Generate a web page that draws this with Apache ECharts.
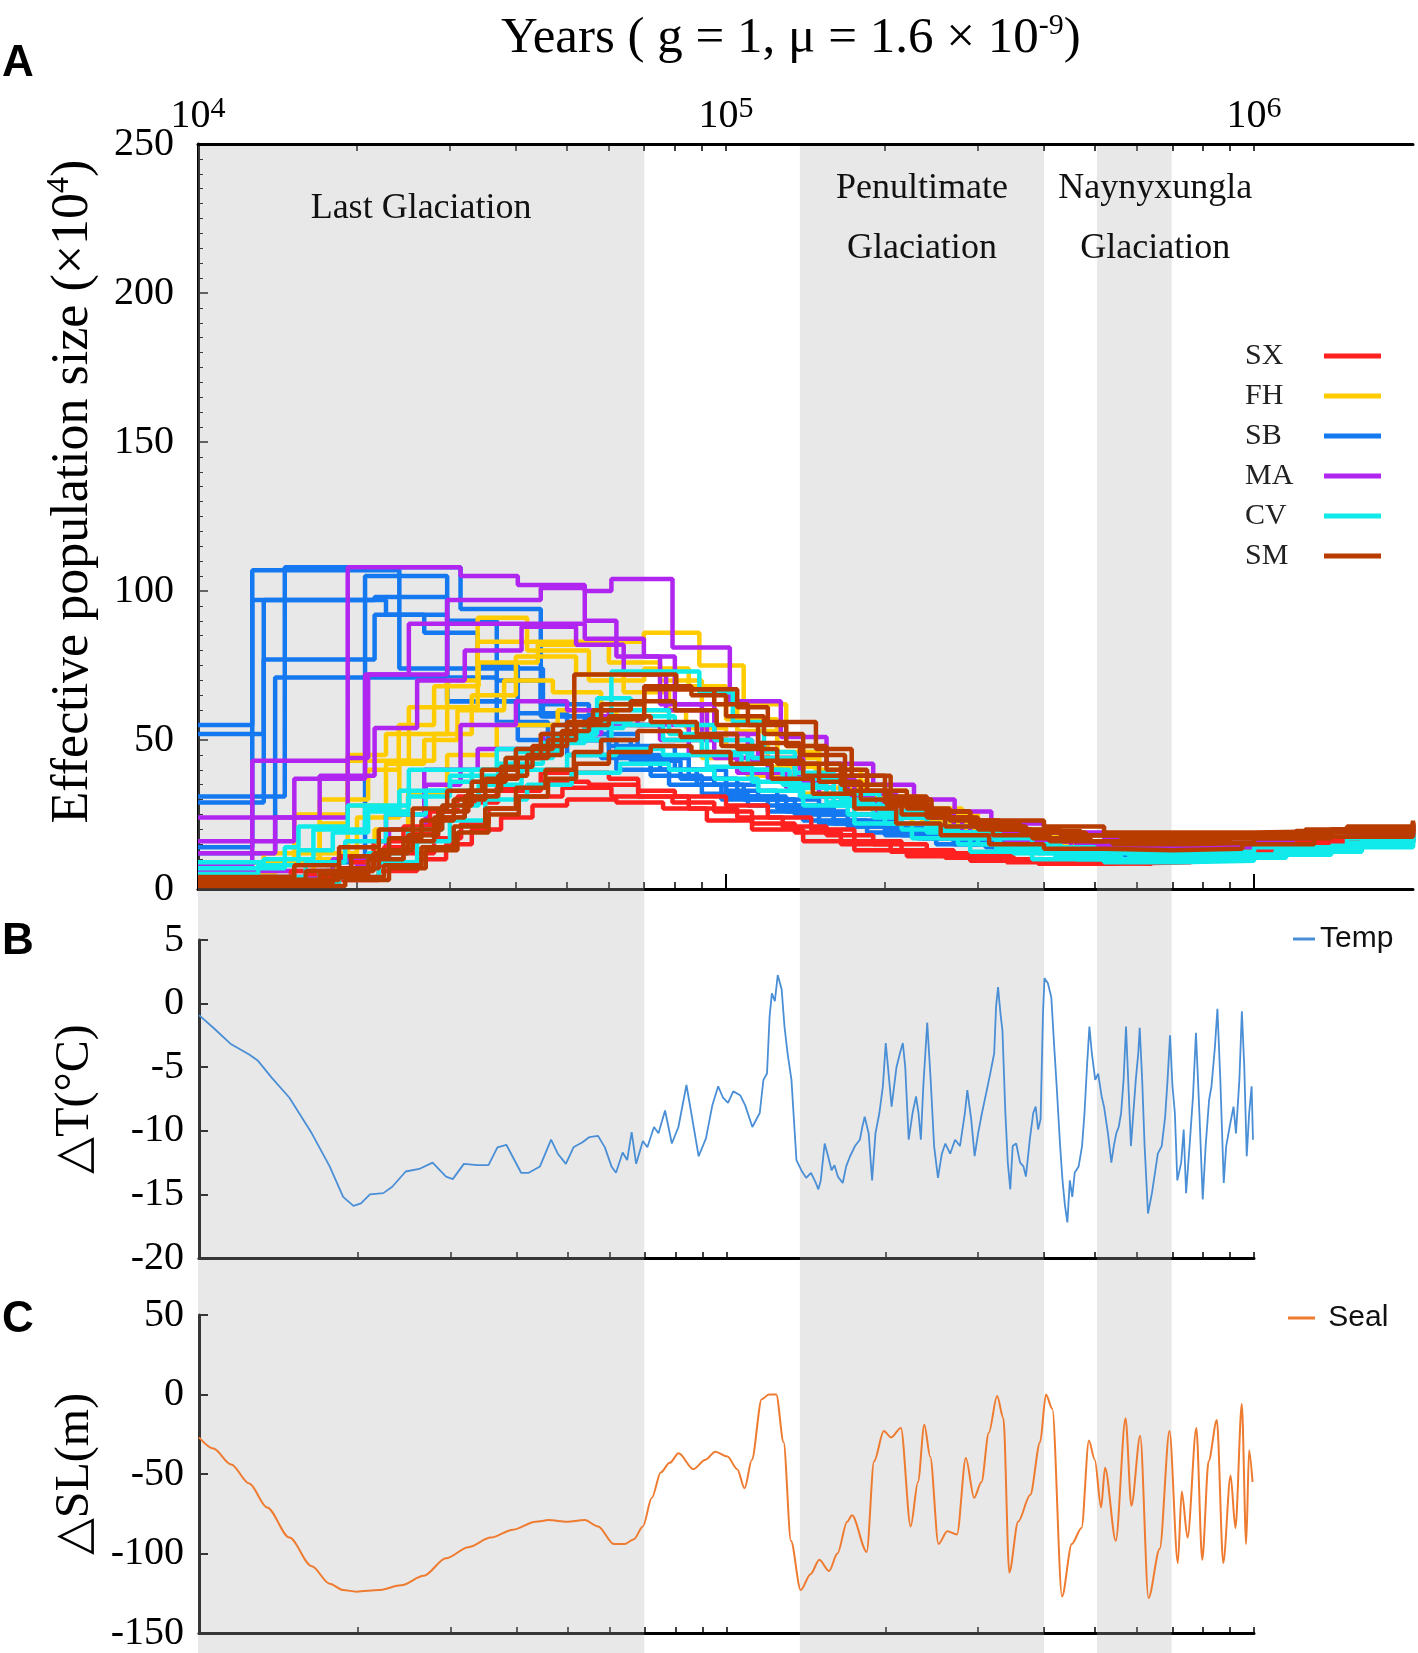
<!DOCTYPE html>
<html>
<head>
<meta charset="utf-8">
<title>PSMC</title>
<script src="https://cdn.jsdelivr.net/npm/echarts@6.0.0/dist/echarts.min.js"></script>
<style>
  html, body { margin: 0; padding: 0; background: #fff; }
  #chart { width: 1418px; height: 1653px; }
</style>
</head>
<body>
<div id="chart"></div>
<script>
// populations (legend order) and colours
const popNames = ['SX', 'FH', 'SB', 'MA', 'CV', 'SM'];
const popColors = ['#ff2020', '#ffcc00', '#1478f0', '#b026f0', '#10eaea', '#b83c00'];

// PSMC runs: [years, Ne (x10^4)], each value holds until the next year
const sxRuns = [
  [[10000,3],[16000,5],[19500,9],[22500,14],[25500,19],[28500,24],[32000,29],[37000,33],[44580,39],[60000,37],[68170,33],[80000,31],[100000,28],[120000,24],[145000,20],[175000,16],[215000,13],[270000,11],[350000,9.5],[470000,9],[650000,10],[900000,12.5],[1300000,17],[2000000,20]],
  [[10000,2],[17000,4],[21000,8],[24500,12],[28000,17],[31500,22],[35500,27],[40330,31],[49000,34],[60660,31],[79190,29],[95000,26],[112000,22],[135000,19],[165000,15],[205000,12.5],[260000,10.5],[340000,9],[460000,8.5],[640000,9.5],[900000,12.5],[1300000,16.5],[2000000,20]],
  [[10000,4],[15000,6],[18500,11],[21500,16],[24500,21],[27500,26],[31000,31],[36800,34],[45000,36],[55000,35],[68170,31],[85000,27],[105000,24],[128000,21],[155000,18],[190000,15],[240000,12],[310000,10],[420000,9],[590000,9.5],[820000,11.5],[1200000,15.5],[2000000,20]],
  [[10000,1.5],[18000,3],[22000,6],[26000,10],[29500,15],[33000,20],[37500,24],[43000,28],[50000,30],[62000,29],[76000,27],[92000,23],[112000,20],[140000,16],[175000,13],[220000,11],[290000,9.5],[390000,8.5],[540000,9],[760000,11],[1100000,14.5],[1600000,18],[2000000,20]]
];
const fhRuns = [
  [[10000,6],[15220,10],[19210,43],[25080,61],[33860,83],[69890,86],[89010,75],[108000,62],[130000,48],[150000,40],[180000,33],[220000,27],[280000,22],[360000,18],[480000,15],[650000,14],[900000,15],[1300000,17],[2000000,19]],
  [[10000,9],[15220,25],[19210,45],[22700,52],[29640,70],[33860,91],[42000,80],[55000,70],[70000,74],[85000,68],[100000,57],[125000,46],[150000,38],[185000,31],[235000,25],[300000,20],[400000,16],[550000,14],[800000,14],[1100000,16],[2000000,19]],
  [[10000,4],[16540,12],[20000,24],[24060,43],[28000,52],[33000,65],[40000,78],[52000,72],[64000,66],[78000,60],[92000,52],[110000,43],[135000,36],[165000,30],[210000,25],[270000,20],[350000,17],[470000,15],[650000,14],[950000,15],[1400000,17],[2000000,19.5]],
  [[10000,3],[18000,7],[21600,20],[25000,32],[29640,45],[36800,55],[48000,60],[62000,55],[75000,50],[90000,44],[110000,38],[140000,32],[175000,27],[225000,22],[290000,18],[380000,15],[520000,13.5],[750000,13.5],[1000000,15],[1500000,17.5],[2000000,19.5]],
  [[10000,5],[14000,9],[17000,22],[19210,28],[22700,42],[26820,50],[31000,60],[38000,70],[47000,66],[58000,62],[70000,60],[84000,54],[100000,48],[120000,41],[148000,34],[185000,28],[235000,23],[300000,19],[400000,16],[560000,14.5],[800000,14.5],[1100000,16],[2000000,19]],
  [[10000,7],[13320,12],[17000,30],[21000,40],[24000,55],[28000,68],[34000,76],[44000,82],[60000,76],[75000,70],[90000,62],[105000,53],[125000,44],[150000,36],[185000,29],[230000,24],[295000,19],[380000,16],[500000,14],[700000,14],[1000000,15.5],[1500000,17.5],[2000000,19.5]]
];
const sbRuns = [
  [[10000,55],[12670,107],[24060,74],[45000,58],[60000,48],[80000,40],[100000,33],[125000,28],[160000,23],[210000,19],[280000,16],[380000,14],[520000,13],[750000,13.5],[1000000,15],[1400000,17],[2000000,19]],
  [[10000,52],[13320,97],[21600,98],[29640,63],[40330,55],[52000,50],[62000,45],[75000,40],[95000,35],[115000,30],[150000,25],[200000,20],[270000,16],[360000,13],[480000,12],[700000,12.5],[1000000,14.5],[1500000,17],[2000000,19]],
  [[10000,31],[14600,108],[31420,94],[44580,62],[55000,52],[68000,44],[85000,37],[105000,31],[130000,26],[170000,21],[230000,17],[310000,14],[420000,12],[600000,12],[850000,14],[1200000,16],[2000000,19]],
  [[10000,29],[13320,77],[21600,92],[29640,71],[36800,56],[46000,50],[58000,44],[72000,38],[90000,32],[110000,28],[140000,23],[185000,19],[250000,15],[340000,12.5],[460000,11.5],[650000,12],[900000,13.5],[1300000,16],[2000000,18.5]],
  [[10000,12],[14000,71],[29640,63],[40330,50],[50000,45],[62000,40],[78000,35],[98000,30],[120000,26],[150000,22],[200000,18],[270000,15],[360000,12.5],[500000,11.5],[700000,12],[1000000,14],[1500000,16.5],[2000000,18.5]],
  [[10000,9],[20720,105],[29640,90],[36800,70],[44580,58],[54000,50],[66000,43],[82000,37],[100000,31],[125000,27],[160000,22],[215000,18],[290000,15],[390000,13],[540000,12],[750000,13],[1000000,14.5],[1500000,17],[2000000,19]],
  [[10000,14],[12670,97],[22700,92],[26820,86],[33860,75],[40330,59],[50000,52],[60000,46],[72000,40],[88000,35],[108000,30],[135000,25],[175000,21],[235000,17],[320000,14],[430000,12.5],[600000,12],[850000,13.5],[1200000,16],[2000000,19]]
];
const maRuns = [
  [[10000,24],[19210,108],[31420,105],[40330,102],[54010,100],[60660,104],[79190,81],[101670,63],[127000,51],[155000,42],[190000,35],[227000,30],[271000,26],[318000,22],[400000,19],[520000,17],[700000,17],[1000000,18],[1400000,20],[2000000,22]],
  [[10000,16],[15220,37],[20720,72],[29640,97],[44580,101],[54010,90],[62000,78],[75000,62],[90000,52],[110000,44],[135000,38],[165000,32],[210000,26],[270000,21],[350000,17],[460000,15],[650000,14.5],[900000,15],[1300000,15.5],[1850000,15]],
  [[10000,8],[12670,43],[19210,44],[21000,72],[25080,89],[54010,84],[69890,78],[80000,62],[95000,52],[115000,44],[140000,37],[175000,30],[225000,24],[290000,19],[380000,16],[520000,14],[750000,14],[1000000,15.5],[1500000,18],[2000000,21]],
  [[10000,4],[20000,8],[23000,20],[27000,35],[31420,55],[40000,63],[50000,60],[60000,55],[75000,50],[95000,44],[120000,37],[150000,31],[190000,26],[240000,21],[310000,17],[420000,14],[600000,13],[850000,14],[1200000,16.5],[2000000,21]],
  [[10000,6],[17980,10],[22700,25],[26820,40],[33860,47],[45000,52],[58000,58],[68000,55],[85000,45],[105000,39],[130000,34],[160000,29],[200000,24],[260000,19],[340000,16],[450000,14],[650000,14],[900000,15],[1300000,17.5],[2000000,21.5]],
  [[10000,12],[14000,24],[17000,38],[21600,54],[26000,70],[32000,80],[41000,88],[52000,82],[64000,72],[77000,60],[92000,50],[112000,43],[138000,36],[170000,30],[215000,24],[280000,19],[370000,16],[500000,15],[700000,15],[1000000,16.5],[1500000,19],[2000000,21.5]]
];
const cvRuns = [
  [[10000,7],[14600,14],[15500,21],[19210,28],[25080,40],[36800,47],[48860,50],[60660,73],[89010,66],[103000,56],[118000,46],[135000,39],[160000,32],[195000,26],[240000,21],[300000,17],[380000,14],[500000,12.5],[700000,12.5],[1000000,14],[1500000,17],[2000000,19.5]],
  [[10000,4],[16000,9],[19000,16],[22700,25],[27000,33],[33000,40],[40000,46],[48000,51],[56000,56],[66000,58],[80000,55],[95000,50],[112000,44],[135000,37],[165000,30],[205000,24],[260000,19],[330000,15],[430000,12],[580000,11],[800000,11.5],[1100000,13],[1500000,15.5],[2000000,18]],
  [[10000,3],[17000,6],[21000,12],[25000,20],[29000,28],[34000,35],[41000,40],[50000,45],[62000,47],[76000,45],[92000,41],[112000,36],[138000,31],[170000,25],[215000,20],[275000,15],[350000,12],[460000,10],[620000,9.5],[850000,10.5],[1150000,12.5],[1600000,15.5],[2000000,18]],
  [[10000,2],[18500,4],[22000,9],[26000,16],[30000,23],[35000,30],[42000,35],[51000,39],[63000,42],[78000,40],[95000,37],[115000,33],[140000,28],[175000,22],[225000,17],[290000,12.5],[380000,10],[520000,9],[720000,9.5],[1000000,11.5],[1400000,14.5],[2000000,18]],
  [[10000,9],[13320,10],[16540,20],[20720,27],[24060,33],[30000,38],[38250,44],[47000,52],[57000,64],[66000,60],[78000,52],[92000,46],[110000,40],[132000,34],[160000,28],[200000,22],[255000,17],[325000,13.5],[420000,11],[560000,10],[780000,11],[1100000,13],[1600000,16],[2000000,18.5]],
  [[10000,5],[13000,8],[15500,13],[18000,19],[21000,26],[25000,31],[30000,36],[37000,42],[45000,49],[54000,54],[64000,55],[76000,50],[90000,45],[107000,40],[128000,35],[155000,29],[190000,24],[240000,19],[300000,15],[390000,12],[520000,10],[700000,10],[950000,11.5],[1300000,14],[2000000,18.5]]
];
const smRuns = [
  [[10000,3],[18500,7],[22000,13],[25500,20],[29000,28],[33000,36],[38250,44],[44580,52],[51600,72],[80500,67],[105000,61],[120000,56],[148000,47],[173000,38],[205000,30],[245000,26],[290000,23],[400000,21],[520000,19],[700000,19],[1000000,19.5],[1500000,21],[2000000,23]],
  [[10000,2],[17000,5],[21000,10],[24500,16],[28000,24],[32000,31],[37000,38],[42000,45],[48860,53],[55000,57],[70000,67],[95000,62],[110000,55],[130000,48],[155000,40],[185000,33],[220000,27],[265000,23],[330000,20],[430000,18],[560000,17],[780000,17],[1000000,18],[1400000,20],[2000000,22.5]],
  [[10000,3],[16000,6],[19500,11],[23000,17],[26500,23],[30500,30],[35000,37],[40330,44],[46000,50],[52000,55],[60000,58],[72000,56],[88000,52],[105000,47],[125000,42],[150000,36],[180000,30],[215000,25],[260000,21],[320000,18],[410000,16],[540000,15],[750000,15.5],[1000000,17],[1400000,19.5],[2000000,22]],
  [[10000,1],[19000,3],[23000,7],[27000,13],[31000,19],[35500,25],[40500,31],[46000,37],[52000,42],[60000,46],[72000,48],[86000,46],[102000,42],[122000,37],[146000,32],[175000,27],[210000,22],[255000,18],[315000,15],[400000,13.5],[520000,13],[700000,13.5],[950000,15],[1300000,17.5],[2000000,21]],
  [[10000,4],[15220,8],[18500,14],[22000,20],[25500,27],[29640,33],[34500,40],[40000,47],[47000,55],[56000,60],[66000,63],[80000,60],[96000,55],[115000,49],[138000,42],[165000,35],[200000,29],[240000,24],[295000,21],[370000,19],[480000,18],[650000,18],[900000,18.5],[1250000,20],[2000000,22.5]],
  [[10000,2],[18000,4],[22500,8],[26500,14],[30500,21],[35000,27],[40000,34],[45500,40],[51500,46],[58000,50],[68000,53],[82000,51],[98000,48],[117000,43],[140000,38],[168000,33],[202000,28],[245000,24],[300000,20],[380000,17],[490000,16],[660000,16],[900000,17],[1300000,19],[2000000,21.5]],
  [[10000,3],[17500,6],[21500,12],[25000,18],[28500,26],[32500,33],[37500,41],[43000,48],[50000,56],[58000,62],[70000,68],[86000,65],[100000,58],[118000,52],[140000,45],[168000,38],[200000,31],[240000,26],[290000,22],[360000,19.5],[470000,18],[640000,17.5],[880000,18],[1200000,19.5],[2000000,22]]
];

// panel B: temperature anomaly [years, deg C]
const tempSeries = [
  [10000,-0.9],[10645,-1.9],[11510,-3.2],[12450,-4.0],[12940,-4.5],[13720,-5.8],[14840,-7.4],[16360,-10.2],[17690,-12.8],[18760,-15.2],[19620,-15.9],[20280,-15.7],[21090,-15.0],[22360,-14.9],[23250,-14.4],[24650,-13.2],[26150,-13.0],[27720,-12.5],[29400,-13.6],[30270,-13.8],[31780,-12.6],[33700,-12.7],[35380,-12.7],[36790,-11.3],[38250,-11.1],[39390,-12.1],[40800,-13.3],[42190,-13.3],[44300,-12.8],[46500,-10.7],[47880,-11.8],[49600,-12.6],[51280,-11.3],[53330,-10.9],[54910,-10.5],[57090,-10.4],[58800,-11.3],[60530,-12.8],[61730,-13.3],[63560,-11.7],[64820,-12.3],[66100,-10.1],[67410,-12.6],[69410,-10.8],[70790,-11.3],[72870,-9.7],[74310,-10.2],[76480,-8.4],[78780,-11.0],[81060,-9.7],
  [83960,-6.4],[86000,-8.9],[88550,-12.0],[91430,-10.6],[94000,-8.0],[96440,-6.5],[98500,-7.4],[100640,-7.8],[103000,-6.9],[106150,-7.2],[108500,-8.0],[111960,-9.7],[115610,-8.6],[117500,-6.0],[119340,-5.5],[120700,-1.0],[121900,0.8],[123500,0.2],[125070,2.25],[127230,1.1],[128800,-1.8],[130540,-3.9],[132780,-6.0],
  [135700,-12.3],[138600,-13.1],[141600,-13.7],[144600,-13.3],[147700,-14.1],[149300,-14.6],[150900,-13.9],[153500,-11.0],[155800,-12.0],[158200,-13.1],[160200,-12.7],[162600,-13.6],[166100,-14.1],[168600,-12.8],[171500,-12.0],[175200,-11.2],[179000,-10.7],[180900,-9.7],[182800,-8.9],[186000,-10.2],[188800,-13.9],[191600,-10.2],[194900,-8.6],[197900,-6.5],[200400,-3.1],[203400,-6.0],[205600,-8.1],[210000,-5.0],[213200,-3.9],[215900,-3.1],[218200,-5.0],[221500,-10.7],[225300,-8.6],[228700,-7.3],[231200,-8.6],[233600,-10.7],[236100,-6.5],[240200,-1.5],[243800,-6.0],[247500,-11.2],[251700,-13.7],[256000,-11.8],[259900,-11.0],[265500,-11.8],[271200,-10.7],[277100,-11.2],[283100,-8.6],[286100,-6.8],[291000,-9.1],[295400,-12.0],[299900,-10.2],[305000,-8.6],[311500,-6.8],[316200,-5.5],[321700,-3.9],[324400,-0.2],[327200,1.3],[330700,-0.8],[333500,-2.1],[337800,-8.6],[341400,-12.5],[345100,-14.6],[348800,-11.2],[354100,-11.0],[360200,-12.5],[365600,-12.8],[369500,-13.6],[375800,-10.7],[381500,-8.6],[385600,-8.1],[389700,-9.9],[393900,-9.1],[398100,-0.8],[400700,2.0],[406700,1.6],[412800,0.5],[418100,-3.4],[422600,-6.5],[429000,-11.2],[433500,-13.9],[438200,-15.9],[442800,-17.2],[447600,-13.9],[452400,-15.2],[457200,-13.3],[465100,-12.8],[472100,-11.2],[477200,-8.6],[482300,-5.0],[487500,-1.8],[492700,-3.9],[500100,-6.0],[506500,-5.5],[514200,-7.3],[519600,-8.1],[528600,-10.2],[536500,-12.5],[542300,-11.2],[548100,-10.2],[554000,-9.7],[559900,-8.6],[565900,-6.0],[572000,-1.8],[578100,-6.5],[584400,-11.2],[590600,-8.6],[596900,-6.0],[603400,-3.9],[607200,-1.9],[613800,-6.0],[620300,-11.2],[629600,-16.5],[640500,-14.9],[650200,-13.1],[657100,-11.8],[668400,-11.2],[678500,-8.9],[685700,-6.0],[693100,-2.5],[700600,-6.5],[707900,-8.6],[715500,-13.9],[727800,-12.5],[735700,-9.9],[743500,-14.9],[754800,-11.2],[766200,-7.3],[776200,-2.3],[787900,-8.6],[799500,-15.4],[809700,-11.2],[821900,-7.6],[830600,-6.5],[843200,-3.4],[852400,-0.4],[863300,-6.0],[876300,-14.1],[885700,-11.2],[899000,-9.7],[914500,-8.1],[924300,-10.2],[938200,-6.0],[948400,-0.6],[958500,-5.0],[968800,-12.0],[979100,-8.6],[989700,-6.5],[995600,-10.7]
];

// panel C: sea level change [years, m]
const sealSeries = [
  [10000,-27],[10645,-34],[11510,-44],[12450,-56],[13460,-71],[14840,-90],[16360,-108],[17690,-119],[18760,-123],[19890,-124],[21930,-123],[24170,-120],[26660,-114],[29400,-103],[32420,-96],[35730,-90],[39390,-85],[43440,-80],[46050,-79],[49800,-80],[53850,-79],[57090,-83],[61140,-94],[64190,-94],[66740,-91],[69410,-83],[72180,-65],[75050,-49],[78040,-43],[81130,-37],[86540,-47],
  [91240,-41],[95210,-36],[100430,-39],[104800,-47],[108220,-59],[111720,-41],[116600,-3],[120360,0],[124250,0],[128310,-30],[132480,-92],[138240,-123],[144290,-113],[149950,-104],[156480,-111],[162280,-100],[169330,-80],[172980,-76],[184420,-99],[190420,-42],[198710,-23],[205120,-27],[214090,-21],[223420,-83],[230680,-55],[237140,-19],[243300,-39],[252280,-94],[262110,-86],[273530,-88],[284250,-40],[294720,-65],[304330,-55],[314230,-24],[325840,-1],[334960,-15],[343620,-112],[357110,-80],[376620,-63],[393040,-30],[403270,0],[414570,-9],[432590,-127],[451400,-94],[471050,-84],[486390,-29],[498990,-41],[513090,-71],[521910,-46],[546990,-92],[570810,-15],[585580,-70],[608520,-26],[630960,-128],[662670,-97],[691500,-23],[717140,-106],[729460,-61],[748350,-90],[777500,-21],[797770,-104],[820150,-42],[850370,-16],[874370,-106],[902810,-51],[922170,-84],[948170,-6],[966470,-94],[978790,-35],[993570,-55]
];

// glaciation bands
const glacialNames = ['Last Glaciation', 'Penultimate\nGlaciation', 'Naynyxungla\nGlaciation'];
const glacialStart = [10000, 138000, 504000];
const glacialEnd = [70000, 400000, 698000];

// log axis ticks
const minorYears = [20000,30000,40000,50000,60000,70000,80000,90000,100000,200000,300000,400000,500000,600000,700000,800000,900000,1000000];
const majorYears = [100000, 1000000];
const labelYears = [10000, 100000, 1000000];
const labelExp = ['4', '5', '6'];

const serif = 'Liberation Serif';
const sans = 'Liberation Sans';

function stepSeries(runs, name, color) {
  return runs.map(function (run) {
    return {
      name: name,
      type: 'line',
      step: 'end',
      xAxisIndex: 0,
      yAxisIndex: 0,
      data: run,
      symbol: 'none',
      silent: true,
      z: 2,
      itemStyle: { color: color },
      lineStyle: { color: color, width: 4.5 }
    };
  });
}

function logAxis(grid, max, extra) {
  return Object.assign({
    type: 'log',
    logBase: 10,
    gridIndex: grid,
    min: 10000,
    max: max,
    splitLine: { show: false },
    axisLabel: { show: false },
    axisTick: { show: false },
    axisLine: { show: false, onZero: false }
  }, extra);
}

const blackLine = { show: true, onZero: false, lineStyle: { color: '#000', width: 3 } };

const series = []
  .concat(stepSeries(sbRuns, 'SB', popColors[2]))
  .concat(stepSeries(fhRuns, 'FH', popColors[1]))
  .concat(stepSeries(maRuns, 'MA', popColors[3]))
  .concat(stepSeries(sxRuns, 'SX', popColors[0]))
  .concat(stepSeries(cvRuns, 'CV', popColors[4]))
  .concat(stepSeries(smRuns, 'SM', popColors[5]));

series.push({
  name: 'Temp', type: 'line', xAxisIndex: 3, yAxisIndex: 1, data: tempSeries,
  symbol: 'none', silent: true, z: 3,
  itemStyle: { color: '#4a8fd6' },
  lineStyle: { color: '#4a8fd6', width: 1.8 }
});
series.push({
  name: 'Seal', type: 'line', xAxisIndex: 4, yAxisIndex: 2, data: sealSeries,
  symbol: 'none', silent: true, z: 3, smooth: 0.3, smoothMonotone: 'x',
  itemStyle: { color: '#ee7b30' },
  lineStyle: { color: '#ee7b30', width: 2 }
});

// band labels: distance from top and horizontal shift
const bandLabelDist = [33, 13, 13];
const bandLabelShift = [0, 0, 21];
series.push({
  type: 'line', xAxisIndex: 5, yAxisIndex: 3, data: [], silent: true, z: 10,
  markArea: {
    silent: true,
    itemStyle: { color: 'rgba(178,178,178,0.3)' },
    label: {
      show: true, position: 'insideTop', color: '#111',
      fontFamily: serif, fontSize: 36, lineHeight: 60
    },
    data: glacialNames.map(function (n, i) {
      return [
        { name: n, xAxis: glacialStart[i], label: { distance: bandLabelDist[i], offset: [bandLabelShift[i], 0] } },
        { xAxis: glacialEnd[i] }
      ];
    })
  }
});

const option = {
  animation: false,
  backgroundColor: '#fff',
  title: [
    {
      text: '{b|Years ( g = 1, μ = 1.6 × 10}{s|-9}{b|)}',
      left: 496, top: 6,
      textStyle: {
        rich: {
          b: { fontFamily: serif, fontWeight: 'normal', fontSize: 51, lineHeight: 56, color: '#000' },
          s: { fontFamily: serif, fontWeight: 'normal', fontSize: 30, lineHeight: 30, verticalAlign: 'top', color: '#000' }
        }
      }
    },
    { text: 'A', left: 2, top: 42, padding: 0, textStyle: { fontFamily: sans, fontWeight: 'bold', fontSize: 44, color: '#000' } },
    { text: 'B', left: 2, top: 920, padding: 0, textStyle: { fontFamily: sans, fontWeight: 'bold', fontSize: 44, color: '#000' } },
    { text: 'C', left: 2, top: 1298, padding: 0, textStyle: { fontFamily: sans, fontWeight: 'bold', fontSize: 44, color: '#000' } }
  ],
  legend: [
    {
      data: popNames, orient: 'vertical', align: 'right', left: 1240, top: 336,
      selectedMode: false, icon: 'rect', itemWidth: 57, itemHeight: 5, itemGap: 10,
      formatter: '{n|{name}}',
      textStyle: {
        color: '#222', fontFamily: serif, fontSize: 30,
        rich: { n: { width: 74, align: 'left', fontFamily: serif, fontSize: 30, lineHeight: 28, color: '#222' } }
      }
    },
    {
      data: ['Temp'], left: 1288, top: 919, selectedMode: false,
      icon: 'rect', itemWidth: 22, itemHeight: 3,
      textStyle: { color: '#111', fontFamily: sans, fontSize: 30 }
    },
    {
      data: ['Seal'], left: 1283, top: 1298, selectedMode: false,
      icon: 'rect', itemWidth: 27, itemHeight: 3, formatter: ' {name}',
      textStyle: { color: '#111', fontFamily: sans, fontSize: 30 }
    }
  ],
  grid: [
    { left: 198, top: 144, width: 1215, height: 745 },
    { left: 199, top: 940, width: 1055, height: 318 },
    { left: 199, top: 1315, width: 1055, height: 322 },
    { left: 198, top: 146, width: 1215, height: 1507 }
  ],
  xAxis: [
    logAxis(0, 2000000, {
      position: 'top',
      axisLine: blackLine,
      axisTick: { show: true, inside: true, length: 7, customValues: minorYears, lineStyle: { color: '#000', width: 1.5 } },
      axisLabel: {
        show: true, customValues: labelYears, margin: 6,
        formatter: function (v) {
          return '{b|10}{s|' + labelExp[labelYears.indexOf(v)] + '}';
        },
        rich: {
          b: { fontFamily: serif, fontSize: 40, lineHeight: 44, color: '#000' },
          s: { fontFamily: serif, fontSize: 30, lineHeight: 30, verticalAlign: 'top', color: '#000' }
        }
      }
    }),
    logAxis(0, 2000000, {
      position: 'bottom',
      axisLine: blackLine,
      axisTick: { show: true, inside: true, length: 7, customValues: minorYears, lineStyle: { color: '#000', width: 1.5 } }
    }),
    logAxis(0, 2000000, {
      position: 'bottom',
      axisTick: { show: true, inside: true, length: 15, customValues: majorYears, lineStyle: { color: '#000', width: 2 } }
    }),
    logAxis(1, 1000000, {
      position: 'bottom',
      axisLine: blackLine,
      axisTick: { show: true, inside: true, length: 6, customValues: minorYears, lineStyle: { color: '#000', width: 1.5 } }
    }),
    logAxis(2, 1000000, {
      position: 'bottom',
      axisLine: blackLine,
      axisTick: { show: true, inside: true, length: 6, customValues: minorYears, lineStyle: { color: '#000', width: 1.5 } }
    }),
    logAxis(3, 2000000, { show: false })
  ],
  yAxis: [
    {
      type: 'value', gridIndex: 0, min: 0, max: 250, interval: 50,
      splitLine: { show: false },
      axisLine: blackLine,
      axisTick: { show: true, inside: true, length: 10, lineStyle: { color: '#000', width: 1.5 } },
      minorTick: { show: true, splitNumber: 10, length: 5, lineStyle: { color: '#000', width: 1 } },
      axisLabel: { fontFamily: serif, fontSize: 40, color: '#000', margin: 24 },
      name: 'Effective population size (×10{s|4})',
      nameLocation: 'middle', nameGap: 94, nameRotate: 90,
      nameTextStyle: {
        fontFamily: serif, fontSize: 52, color: '#000', lineHeight: 60, padding: [0, 0, 0, 50],
        rich: { s: { fontFamily: serif, fontSize: 32, lineHeight: 32, verticalAlign: 'top', color: '#000' } }
      }
    },
    {
      type: 'value', gridIndex: 1, min: -20, max: 5, interval: 5,
      splitLine: { show: false },
      axisLine: blackLine,
      axisTick: { show: true, inside: true, length: 9, lineStyle: { color: '#000', width: 2 } },
      axisLabel: { fontFamily: serif, fontSize: 40, color: '#000', margin: 15 },
      name: '△T(°C)', nameLocation: 'middle', nameGap: 100, nameRotate: 90,
      nameTextStyle: { fontFamily: serif, fontSize: 48, color: '#000' }
    },
    {
      type: 'value', gridIndex: 2, min: -150, max: 50, interval: 50,
      splitLine: { show: false },
      axisLine: blackLine,
      axisTick: { show: true, inside: true, length: 9, lineStyle: { color: '#000', width: 2 } },
      axisLabel: { fontFamily: serif, fontSize: 40, color: '#000', margin: 15 },
      name: '△SL(m)', nameLocation: 'middle', nameGap: 98, nameRotate: 90,
      nameTextStyle: { fontFamily: serif, fontSize: 48, color: '#000' }
    },
    { type: 'value', gridIndex: 3, min: 0, max: 1, show: false }
  ],
  series: series
};

const chart = echarts.init(document.getElementById('chart'), null, { renderer: 'canvas' });
chart.setOption(option);
</script>
</body>
</html>
